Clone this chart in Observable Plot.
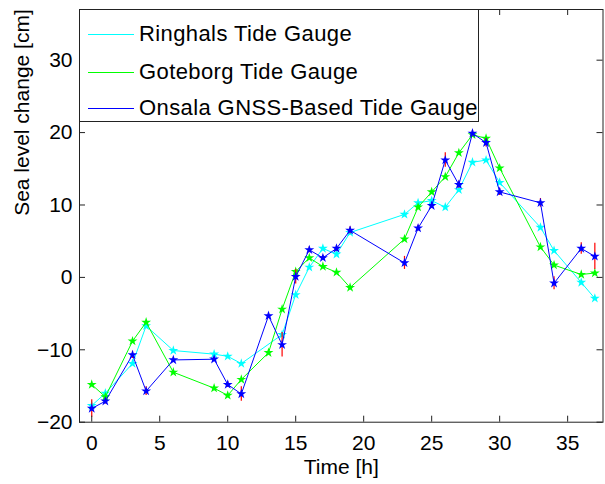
<!DOCTYPE html>
<html>
<head>
<meta charset="utf-8">
<script src="https://cdn.jsdelivr.net/npm/d3@7"></script>
<script src="https://cdn.jsdelivr.net/npm/@observablehq/plot@0.6"></script>
<style>
  html, body { margin: 0; padding: 0; background: #fff; }
  #wrap { position: relative; width: 605px; height: 484px; }
  #legend {
    position: absolute; left: 79px; top: 9px; width: 400px; height: 113px;
    background: #fff; border: 1px solid #222; box-sizing: border-box;
    font-family: "Liberation Sans", Arial, sans-serif; font-size: 22px; letter-spacing: 0.4px; color: #000;
  }
  .row { position: absolute; left: 0; height: 24px; display: flex; align-items: center; }
  .swatch { width: 46px; height: 0; border-top: 1px solid; margin-left: 8px; margin-right: 5px; }
</style>
</head>
<body>
<div id="wrap">
  <div id="chart"></div>
  <div id="legend"></div>
</div>
<script>
// ---- data ----
const seriesNames = ["Ringhals Tide Gauge", "Goteborg Tide Gauge", "Onsala GNSS-Based Tide Gauge"];
const seriesColors = ["#00FFFF", "#00FF00", "#0000FF"];

const ringhalsHours = [0, 1, 3, 4, 6, 9, 10, 11, 14, 15, 16, 17, 18, 19, 23, 24, 25, 26, 27, 28, 29, 30, 33, 34, 36, 37];
const ringhalsValues = [-17.7, -16.0, -11.9, -6.7, -10.1, -10.6, -10.9, -11.9, -7.9, -2.4, 1.4, 4.0, 3.2, 6.2, 8.7, 10.3, 10.6, 9.7, 12.1, 15.9, 16.2, 13.1, 6.9, 3.7, -0.7, -2.9];

const goteborgHours = [0, 1, 3, 4, 6, 9, 10, 11, 13, 14, 15, 16, 17, 18, 19, 23, 24, 25, 26, 27, 28, 29, 30, 33, 34, 36, 37];
const goteborgValues = [-14.8, -16.5, -8.8, -6.2, -13.1, -15.3, -16.3, -14.1, -10.4, -4.4, 0.8, 2.7, 1.5, 0.7, -1.4, 5.3, 9.7, 11.8, 13.9, 17.2, 19.7, 19.2, 15.1, 4.2, 1.7, 0.4, 0.6];

const onsalaHours = [0, 1, 3, 4, 6, 9, 10, 11, 13, 14, 15, 16, 17, 18, 19, 23, 24, 25, 26, 27, 28, 29, 30, 33, 34, 36, 37];
const onsalaValues = [-18.1, -17.1, -10.7, -15.7, -11.4, -11.3, -14.8, -16.1, -5.3, -9.3, 0.1, 3.8, 2.7, 4.0, 6.5, 2.0, 6.8, 9.9, 16.2, 12.8, 19.9, 18.6, 11.8, 10.3, -0.8, 4.0, 2.9];
const onsalaErrors = [1.2, 0.4, 0.5, 0.6, 0.3, 0.3, 0.4, 1.0, 0.4, 1.7, 1.0, 0.4, 0.3, 0.4, 0.5, 0.9, 0.4, 0.4, 1.0, 0.5, 0.4, 0.6, 0.5, 0.6, 0.9, 0.8, 1.8];

const xTicks = [0, 5, 10, 15, 20, 25, 30, 35];
const yTicks = [-20, -10, 0, 10, 20, 30];
const xLabel = "Time [h]";
const yLabel = "Sea level change [cm]";

// ---- build rows ----
const rows = (hours, values, name) => hours.map((h, i) => ({h, v: values[i], name}));
const ringhals = rows(ringhalsHours, ringhalsValues, seriesNames[0]);
const goteborg = rows(goteborgHours, goteborgValues, seriesNames[1]);
const onsala = onsalaHours.map((h, i) => ({h, v: onsalaValues[i], e: onsalaErrors[i], name: seriesNames[2]}));

const width = 605, height = 484;
const marginLeft = 79, marginRight = 2.5, marginTop = 9, marginBottom = 62.3;
const innerH = height - marginTop - marginBottom;
const innerW = width - marginLeft - marginRight;
const tick = 6;
const axisColor = "#222";

const seriesMarks = (data, color) => [
  Plot.line(data, {x: "h", y: "v", stroke: color, strokeWidth: 1}),
  Plot.dot(data, {x: "h", y: "v", fill: color, symbol: "star", r: 3.1, stroke: "none"})
];

const chart = Plot.plot({
  width, height, marginLeft, marginRight, marginTop, marginBottom,
  style: {fontFamily: "'Liberation Sans', Arial, sans-serif", fontSize: "21px", background: "#fff", color: "#000", overflow: "visible"},
  x: {domain: [-0.9, 37.6]},
  y: {domain: [-20, 37]},
  marks: [
    ...seriesMarks(ringhals, seriesColors[0]),
    ...seriesMarks(goteborg, seriesColors[1]),
    Plot.ruleX(onsala, {x: "h", y1: d => d.v - d.e, y2: d => d.v + d.e, stroke: "#FF0000", strokeWidth: 1.2}),
    ...seriesMarks(onsala, seriesColors[2]),
    // inward ticks
    Plot.ruleX(xTicks, {x: d => d, insetTop: innerH - tick, stroke: axisColor}),
    Plot.ruleX(xTicks, {x: d => d, insetBottom: innerH - tick, stroke: axisColor}),
    Plot.ruleY(yTicks, {y: d => d, insetRight: innerW - tick, stroke: axisColor}),
    Plot.ruleY(yTicks, {y: d => d, insetLeft: innerW - tick, stroke: axisColor}),
    Plot.axisX({ticks: xTicks, tickSize: 0, tickPadding: 13, label: null, fontSize: 21}),
    Plot.axisY({ticks: yTicks, tickSize: 0, tickPadding: 7, label: null, fontSize: 21}),
    Plot.frame({stroke: axisColor, strokeWidth: 1}),
    Plot.text([xLabel], {frameAnchor: "bottom", dy: 45, text: d => d, fontSize: 21, lineAnchor: "middle"}),
    Plot.text([yLabel], {frameAnchor: "left", dx: -57, rotate: -90, text: d => d, fontSize: 21, lineAnchor: "middle"})
  ]
});
document.getElementById("chart").appendChild(chart);

// ---- legend ----
const legend = document.getElementById("legend");
const rowTops = [12, 50, 86];
seriesNames.forEach((name, i) => {
  const r = document.createElement("div");
  r.className = "row";
  r.style.top = rowTops[i] + "px";
  const sw = document.createElement("span");
  sw.className = "swatch";
  sw.style.borderTopColor = seriesColors[i];
  const t = document.createElement("span");
  t.textContent = name;
  r.appendChild(sw); r.appendChild(t);
  legend.appendChild(r);
});
</script>
</body>
</html>
